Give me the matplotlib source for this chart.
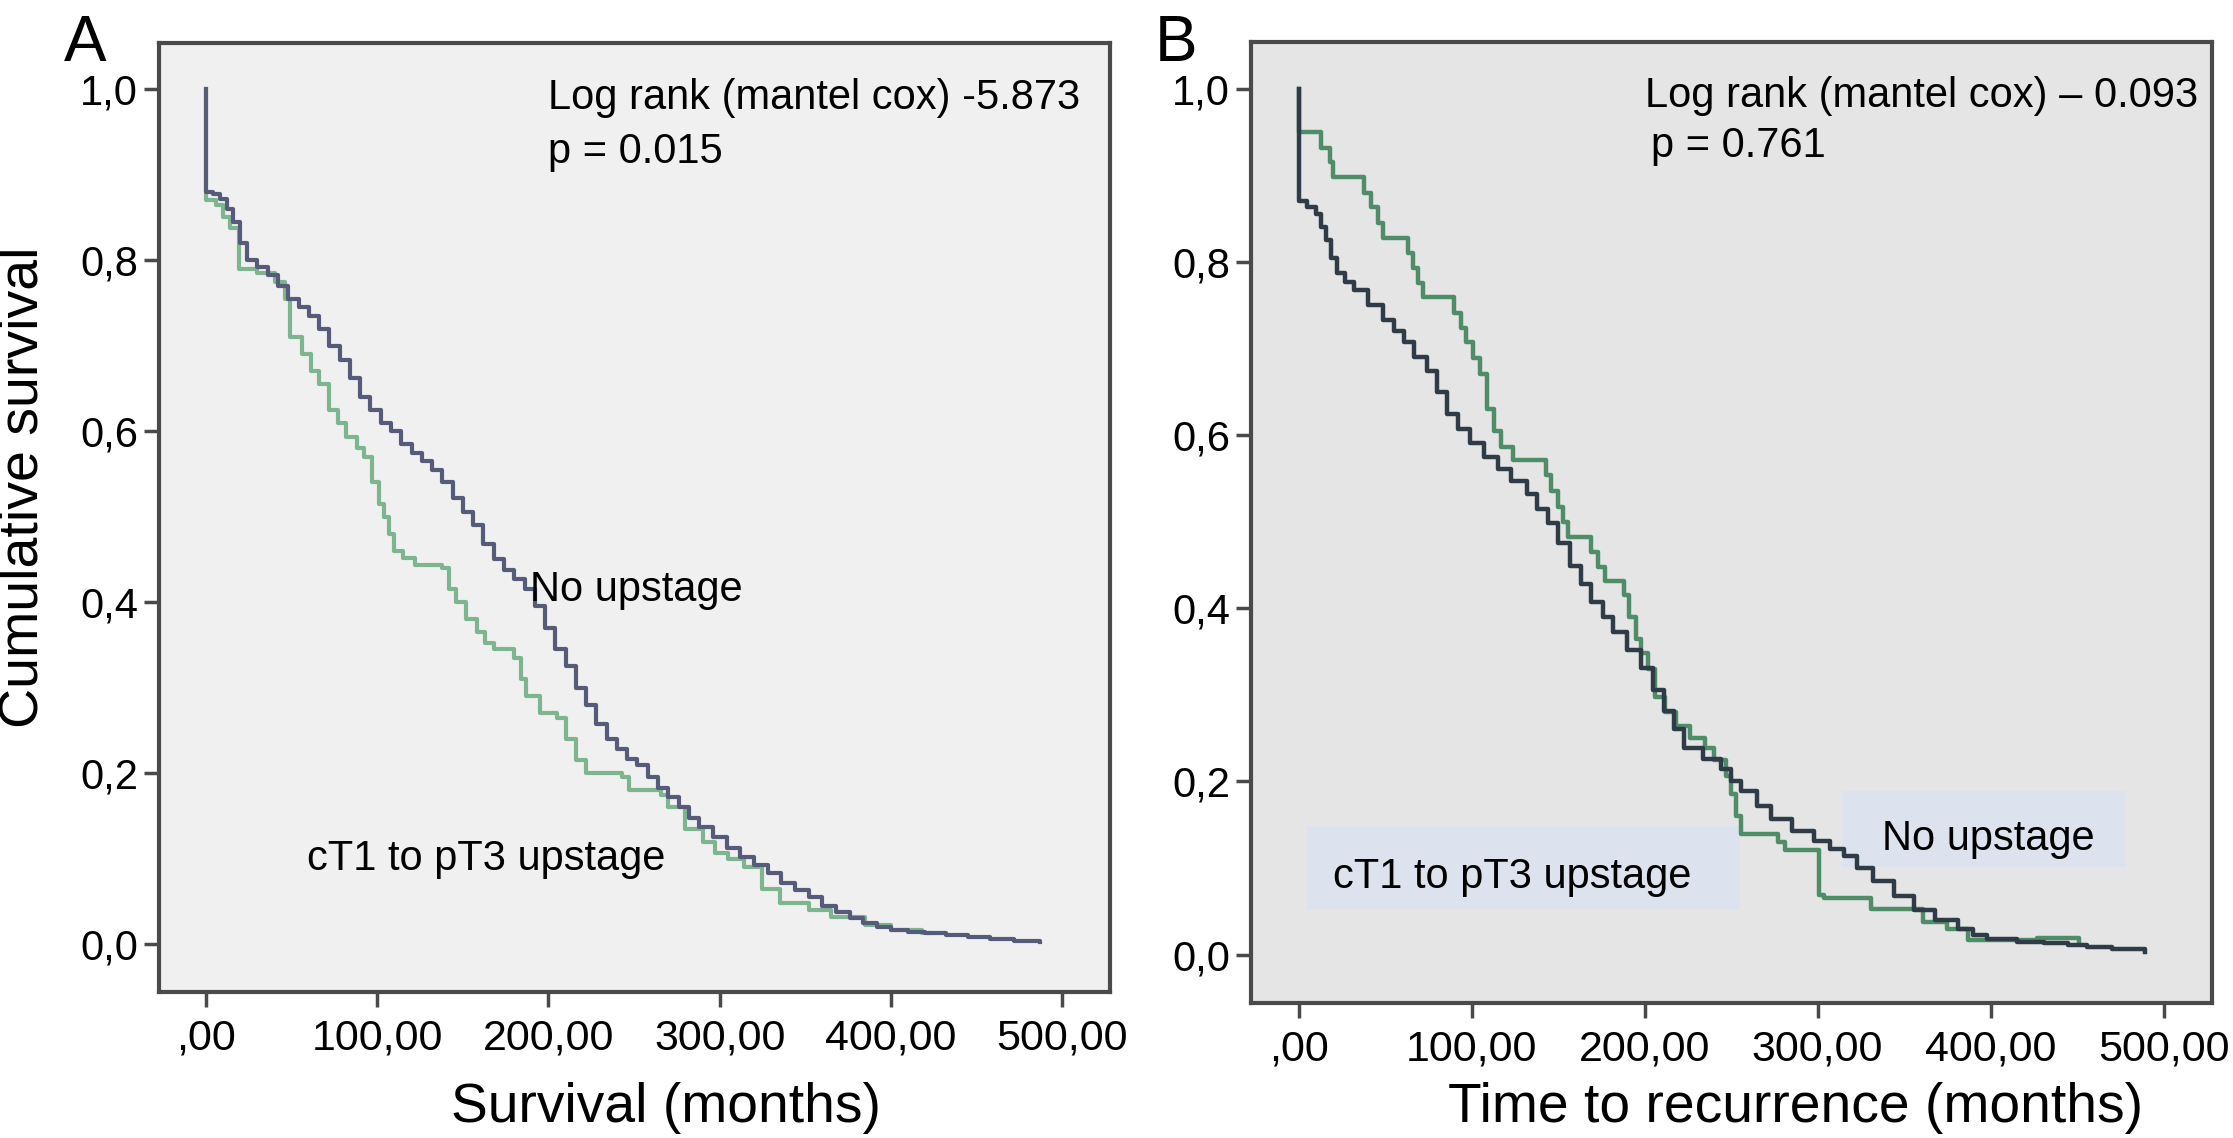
import matplotlib
matplotlib.use("Agg")
import matplotlib.pyplot as plt
from matplotlib.patches import Rectangle

plt.rcParams['font.family'] = ['Liberation Sans', 'DejaVu Sans']

# ---- data ----
xticks = [0, 100, 200, 300, 400, 500]
xtick_labels = [',00', '100,00', '200,00', '300,00', '400,00', '500,00']
yticks = [0.0, 0.2, 0.4, 0.6, 0.8, 1.0]
ytick_labels = ['0,0', '0,2', '0,4', '0,6', '0,8', '1,0']

# Panel A - overall survival
a_noup_t = [0, 0, 4, 8, 12, 16, 20, 24, 30, 36, 42, 48, 54, 60, 66, 72, 78, 84, 90, 96,
            102, 108, 114, 120, 126, 132, 138, 144, 150, 156, 162, 168, 174, 180, 186, 192, 198, 204, 210, 216,
            222, 228, 234, 240, 246, 252, 258, 264, 270, 276, 282, 288, 296, 304, 312, 320, 328, 336, 344, 352,
            360, 368, 376, 384, 392, 400, 410, 420, 432, 445, 458, 472, 487]
a_noup_s = [1.0, 0.88, 0.877, 0.872, 0.86, 0.845, 0.82, 0.80, 0.792, 0.783, 0.77, 0.755, 0.745, 0.735, 0.72, 0.70, 0.683, 0.662, 0.64, 0.625,
            0.61, 0.60, 0.585, 0.575, 0.565, 0.554, 0.54, 0.522, 0.505, 0.49, 0.468, 0.45, 0.438, 0.427, 0.415, 0.395, 0.37, 0.345, 0.325, 0.30,
            0.28, 0.257, 0.24, 0.228, 0.217, 0.21, 0.195, 0.183, 0.172, 0.16, 0.148, 0.137, 0.125, 0.113, 0.102, 0.092, 0.083, 0.072, 0.063, 0.055,
            0.045, 0.037, 0.03, 0.025, 0.02, 0.016, 0.014, 0.013, 0.011, 0.008, 0.006, 0.004, 0.002]

a_up_t = [0, 0, 6, 10, 14, 19, 30, 40, 46, 49, 56, 61, 66, 72, 77, 82, 88, 92, 97, 101,
          104, 107, 110, 115, 122, 138, 142, 146, 152, 158, 163, 168, 180, 184, 187, 195, 205, 210, 216, 222,
          243, 247, 266, 270, 280, 290, 297, 305, 314, 325, 335, 352, 365, 385, 400, 418, 423]
a_up_s = [1.0, 0.87, 0.865, 0.85, 0.838, 0.79, 0.785, 0.775, 0.755, 0.71, 0.69, 0.67, 0.655, 0.625, 0.61, 0.593, 0.58, 0.57, 0.54, 0.515,
          0.5, 0.48, 0.46, 0.452, 0.443, 0.44, 0.415, 0.40, 0.38, 0.365, 0.352, 0.345, 0.335, 0.31, 0.29, 0.27, 0.265, 0.24, 0.215, 0.20,
          0.195, 0.18, 0.175, 0.16, 0.135, 0.12, 0.107, 0.10, 0.09, 0.065, 0.048, 0.04, 0.032, 0.022, 0.016, 0.013, 0.013]

# Panel B - time to recurrence
b_noup_t = [0, 0, 5, 10, 13, 16, 19, 22, 27, 32, 40, 49, 55, 61, 67, 74, 80, 86, 92, 99,
            107, 115, 123, 132, 138, 144, 150, 157, 163, 169, 176, 182, 190, 198, 205, 211, 217, 223, 234, 244,
            250, 256, 265, 273, 285, 298, 307, 315, 323, 332, 344, 356, 368, 381, 390, 398, 415, 431, 445, 456,
            470, 489]
b_noup_s = [1.0, 0.87, 0.863, 0.855, 0.84, 0.825, 0.805, 0.787, 0.777, 0.767, 0.75, 0.733, 0.72, 0.708, 0.69, 0.674, 0.65, 0.624, 0.607, 0.591,
            0.575, 0.561, 0.547, 0.532, 0.515, 0.499, 0.475, 0.449, 0.428, 0.407, 0.39, 0.373, 0.352, 0.331, 0.305, 0.281, 0.26, 0.239, 0.226, 0.214,
            0.20, 0.189, 0.172, 0.156, 0.143, 0.131, 0.122, 0.114, 0.10, 0.085, 0.068, 0.051, 0.04, 0.03, 0.022, 0.018, 0.015, 0.013, 0.011, 0.009,
            0.006, 0.003]

b_up_t = [0, 0, 13, 18, 20, 38, 42, 46, 49, 63, 66, 69, 72, 90, 94, 97, 101, 105, 109, 113,
          117, 124, 143, 146, 150, 153, 156, 169, 173, 177, 188, 191, 195, 198, 202, 206, 212, 218, 226, 235,
          240, 247, 250, 253, 256, 277, 281, 301, 304, 331, 336, 361, 375, 387, 427, 451]
b_up_s = [1.0, 0.95, 0.932, 0.915, 0.898, 0.88, 0.863, 0.845, 0.828, 0.81, 0.793, 0.776, 0.759, 0.741, 0.724, 0.707, 0.689, 0.671, 0.63, 0.605,
          0.586, 0.571, 0.554, 0.535, 0.517, 0.50, 0.482, 0.465, 0.448, 0.432, 0.415, 0.39, 0.365, 0.348, 0.33, 0.298, 0.28, 0.264, 0.25, 0.239,
          0.225, 0.206, 0.185, 0.16, 0.139, 0.13, 0.121, 0.069, 0.065, 0.052, 0.052, 0.037, 0.03, 0.017, 0.019, 0.012]

fig = plt.figure(figsize=(22.33, 11.38), dpi=100)
W, H = 2233, 1138
ANN = 30  # annotation font size

def setup(ax, bg):
    ax.set_facecolor(bg)
    ax.set_xlim(-27.5, 528)
    ax.set_ylim(-0.056, 1.054)
    ax.set_xticks(xticks)
    ax.set_xticklabels(xtick_labels)
    ax.set_yticks(yticks)
    ax.set_yticklabels(ytick_labels)
    ax.tick_params(axis='both', direction='out', length=11, width=2.5, color='#4a4a4a',
                   labelcolor='black')
    ax.tick_params(axis='x', pad=8, labelsize=31)
    ax.tick_params(axis='y', pad=4, labelsize=30)
    for s in ax.spines.values():
        s.set_linewidth(3)
        s.set_color('#4a4a4a')

# panel A
axA = fig.add_axes([159 / W, 1 - 992 / H, (1110 - 159) / W, (992 - 43) / H])
setup(axA, '#f0f0f0')
axA.step(a_up_t, a_up_s, where='post', color='#7db58e', lw=3)
axA.step(a_noup_t, a_noup_s, where='post', color='#575b7a', lw=3)
axA.text(200, 0.99, 'Log rank (mantel cox) -5.873', fontsize=ANN, va='center')
axA.text(200, 0.927, 'p = 0.015', fontsize=ANN, va='center')
axA.text(189, 0.414, 'No upstage', fontsize=ANN, va='center')
axA.text(59, 0.10, 'cT1 to pT3 upstage', fontsize=ANN, va='center')

# panel B
axB = fig.add_axes([1251 / W, 1 - 1003 / H, (2212 - 1251) / W, (1003 - 42) / H])
setup(axB, '#e5e5e5')
axB.add_patch(Rectangle((5, 0.051), 250, 0.097, facecolor='#dce3ef', edgecolor='none', zorder=1))
axB.add_patch(Rectangle((314, 0.101), 164, 0.088, facecolor='#dce3ef', edgecolor='none', zorder=1))
axB.step(b_up_t, b_up_s, where='post', color='#4f8c68', lw=3.2, zorder=2)
axB.step(b_noup_t, b_noup_s, where='post', color='#2f3b47', lw=3.2, zorder=3)
axB.text(200, 0.992, 'Log rank (mantel cox) \u2013 0.093', fontsize=ANN, va='center')
axB.text(204, 0.934, 'p = 0.761', fontsize=ANN, va='center')
axB.text(20, 0.089, 'cT1 to pT3 upstage', fontsize=ANN, va='center', zorder=4)
axB.text(337, 0.133, 'No upstage', fontsize=ANN, va='center', zorder=4)

# labels
fig.text(666 / W, 1 - 1122 / H, 'Survival (months)', fontsize=39.7, ha='center', va='baseline')
fig.text(1796 / W, 1 - 1122 / H, 'Time to recurrence (months)', fontsize=39.7, ha='center', va='baseline')
fig.text(24 / W, 1 - 487 / H, 'Cumulative survival', fontsize=40, rotation=90, ha='center', va='center')
fig.text(64 / W, 1 - 61 / H, 'A', fontsize=46, ha='left', va='baseline')
fig.text(1155 / W, 1 - 61 / H, 'B', fontsize=46, ha='left', va='baseline')

fig.savefig('out.png', dpi=100, facecolor='white')
